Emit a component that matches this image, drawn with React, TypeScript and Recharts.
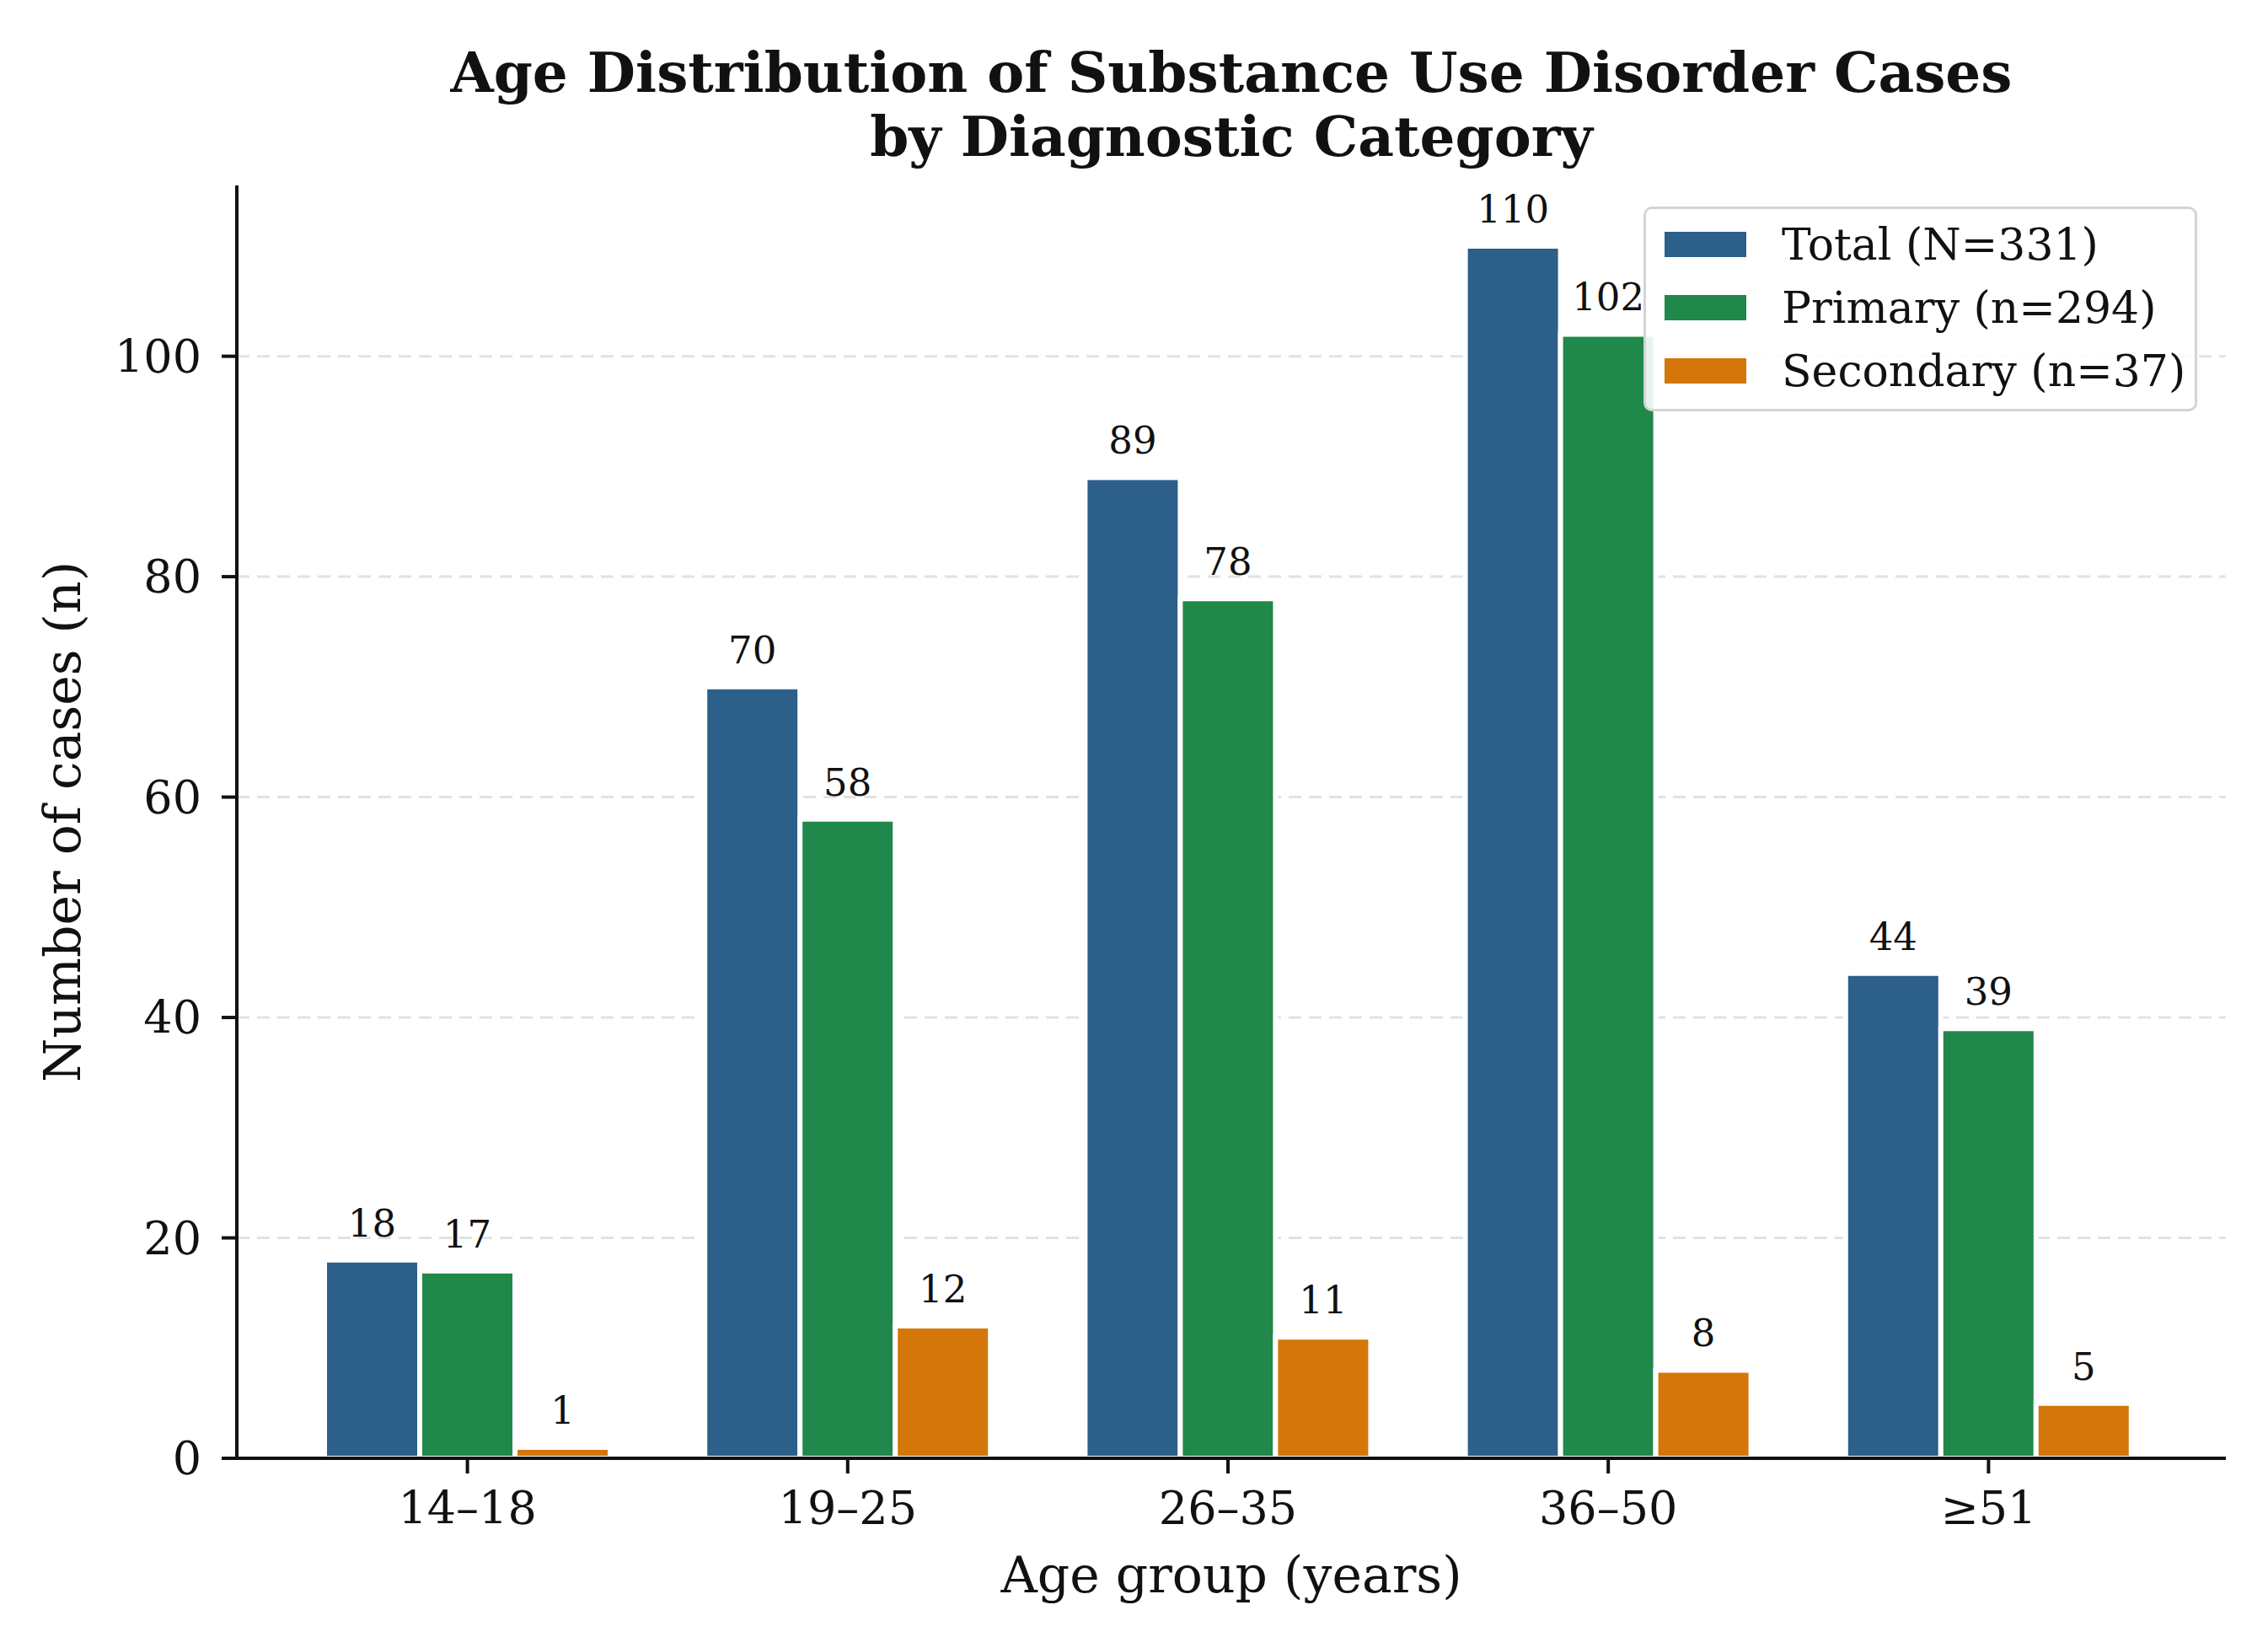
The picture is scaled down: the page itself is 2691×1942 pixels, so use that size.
import React from "react";
import {
  BarChart,
  Bar,
  XAxis,
  YAxis,
  CartesianGrid,
  Legend,
  LabelList,
  Customized,
} from "recharts";

const ageGroups = ["14–18", "19–25", "26–35", "36–50", "≥51"];
const totalCases = [18, 70, 89, 110, 44];
const primaryCases = [17, 58, 78, 102, 39];
const secondaryCases = [1, 12, 11, 8, 5];
const yTicks = [0, 20, 40, 60, 80, 100];

const series = [
  { key: "total", name: "Total (N=331)", color: "#2C5F8A" },
  { key: "primary", name: "Primary (n=294)", color: "#1F884A" },
  { key: "secondary", name: "Secondary (n=37)", color: "#D4760A" },
];

const chartData = ageGroups.map((group, i) => ({
  group,
  total: totalCases[i],
  primary: primaryCases[i],
  secondary: secondaryCases[i],
}));

const FONT = "'DejaVu Serif', serif";

// keep legend rows in series order (recharts sorts payload by default)
const renderLegend = () => (
  <div
    style={{
      boxSizing: "border-box",
      width: 657,
      height: 243,
      border: "3px solid #d4d4d4",
      borderRadius: 10,
      background: "rgba(255,255,255,0.9)",
      paddingTop: 4,
      fontFamily: FONT,
      fontSize: 52,
      color: "#111",
    }}
  >
    {series.map((s) => (
      <div key={s.key} style={{ display: "flex", alignItems: "center", height: 75 }}>
        <span
          style={{
            display: "inline-block",
            width: 97,
            height: 30,
            background: s.color,
            marginLeft: 22,
            marginRight: 42,
          }}
        />
        <span>{s.name}</span>
      </div>
    ))}
  </div>
);

const Titles = () => (
  <g fontFamily={FONT} fill="#111">
    <text x={1461} y={109} textAnchor="middle" fontSize={66} fontWeight="bold">
      Age Distribution of Substance Use Disorder Cases
    </text>
    <text x={1461} y={185} textAnchor="middle" fontSize={66} fontWeight="bold">
      by Diagnostic Category
    </text>
    <text x={1461} y={1868} dy="0.35em" textAnchor="middle" fontSize={60}>
      Age group (years)
    </text>
    <text
      x={74}
      y={975}
      dy="0.35em"
      textAnchor="middle"
      fontSize={60}
      transform="rotate(-90 74 975)"
    >
      Number of cases (n)
    </text>
  </g>
);

const App = () => {
  return (
    <div style={{ position: "absolute", left: 0, top: 0, width: 2691, height: 1942, background: "#fff" }}>
      <BarChart
        width={2691}
        height={1942}
        data={chartData}
        margin={{ top: 220, right: 50, bottom: 0, left: 0 }}
        barGap={0}
      >
        <CartesianGrid
          vertical={false}
          horizontalValues={yTicks}
          stroke="#e2e2e2"
          strokeWidth={3}
          strokeDasharray="15 9"
        />
        <XAxis
          dataKey="group"
          height={212}
          padding={{ left: 48, right: 56 }}
          axisLine={{ stroke: "#111", strokeWidth: 4 }}
          tickLine={{ stroke: "#111", strokeWidth: 4 }}
          tickSize={18}
          tickMargin={22}
          tick={{ fontFamily: FONT, fontSize: 54, fill: "#111" }}
        />
        <YAxis
          width={281}
          domain={[0, 115.5]}
          ticks={yTicks}
          allowDataOverflow
          axisLine={{ stroke: "#111", strokeWidth: 4 }}
          tickLine={{ stroke: "#111", strokeWidth: 4 }}
          tickSize={18}
          tickMargin={24}
          tick={{ fontFamily: FONT, fontSize: 54, fill: "#111" }}
        />
        <Legend
          layout="vertical"
          align="center"
          verticalAlign="middle"
          content={renderLegend}
          wrapperStyle={{ left: 1950, top: 245, width: 657, height: 243 }}
        />
        {series.map((s) => (
          <Bar
            key={s.key}
            dataKey={s.key}
            name={s.name}
            fill={s.color}
            stroke="#ffffff"
            strokeWidth={6}
            barSize={113}
            isAnimationActive={false}
          >
            <LabelList
              dataKey={s.key}
              position="top"
              offset={28}
              style={{ fontFamily: FONT, fontSize: 45, fill: "#111" }}
            />
          </Bar>
        ))}
        <Customized component={Titles} />
      </BarChart>
    </div>
  );
};

export default App;
